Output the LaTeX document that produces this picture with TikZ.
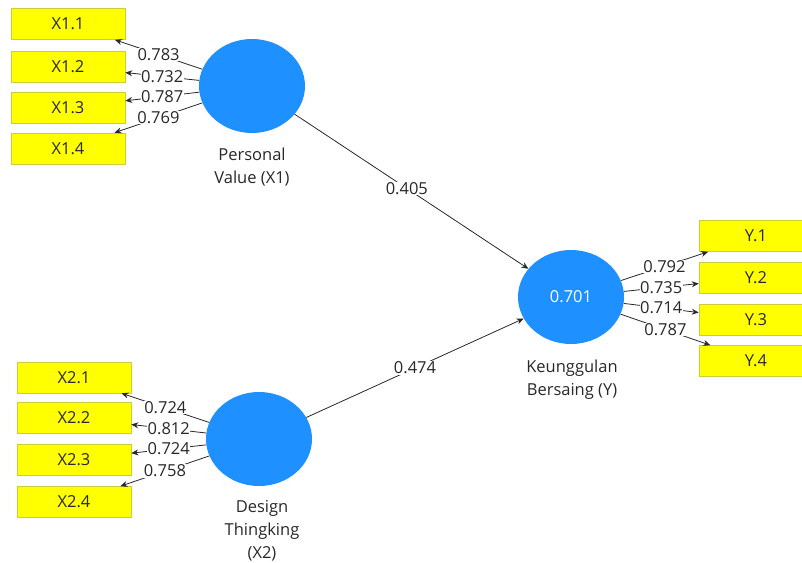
\documentclass[tikz,border=0pt]{standalone}
\usepackage{fontspec}
\setmainfont{Open Sans}
\usetikzlibrary{arrows.meta}
\usetikzlibrary{shapes.geometric}
\usetikzlibrary{positioning}

\definecolor{lvblue}{RGB}{30,144,255}
\definecolor{mvyellow}{RGB}{255,255,0}
\definecolor{mvedge}{RGB}{205,205,60}
\definecolor{txtgray}{RGB}{40,40,40}

\tikzset{
  latent/.style={ellipse, fill=lvblue, minimum width=106pt, minimum height=94pt, inner sep=0pt},
  manifest/.style={rectangle, draw=mvedge, line width=0.6pt, fill=mvyellow, minimum width=114pt, minimum height=31pt, inner sep=0pt},
  path/.style={draw=txtgray, line width=0.8pt, -{Stealth[length=7pt,width=6pt]}},
  coef/.style={fill=white, inner sep=0.5pt},
  caption/.style={align=center}
}

\begin{document}
\begin{tikzpicture}[x=1pt, y=-1pt, font=\fontsize{16.5}{23}\selectfont, text=txtgray]
  \useasboundingbox (0,0) rectangle (802,562);
  % latent variables
  \node[latent] (x1) at (252,86)  {};
  \node[latent] (x2) at (259,439) {};
  \node[latent, text=white] (y) at (571,297) {0.701};
  \node[caption] (x1lbl) at (252,167) {Personal\\Value (X1)};
  \node[caption] (x2lbl) at (262,531) {Design\\Thingking\\(X2)};
  \node[caption] (ylbl)  at (572,380) {Keunggulan\\Bersaing (Y)};
  % indicators
  \node[manifest] (x11) at (68,24)    {X1.1};
  \node[manifest] (x12) at (68,66.5)  {X1.2};
  \node[manifest] (x13) at (68,107.5) {X1.3};
  \node[manifest] (x14) at (68,148.5) {X1.4};
  \node[manifest] (x21) at (74,377.5) {X2.1};
  \node[manifest] (x22) at (74,418)   {X2.2};
  \node[manifest] (x23) at (74,459.5) {X2.3};
  \node[manifest] (x24) at (74,502)   {X2.4};
  \node[manifest] (y1)  at (756,236)   {Y.1};
  \node[manifest] (y2)  at (756,277.5) {Y.2};
  \node[manifest] (y3)  at (756,319.5) {Y.3};
  \node[manifest] (y4)  at (756,361)   {Y.4};
  % outer loadings
  \draw[path] (x1) -- node[coef] {0.783} (x11);
  \draw[path] (x1) -- node[coef] {0.732} (x12);
  \draw[path] (x1) -- node[coef] {0.787} (x13);
  \draw[path] (x1) -- node[coef] {0.769} (x14);
  \draw[path] (x2) -- node[coef] {0.724} (x21);
  \draw[path] (x2) -- node[coef] {0.812} (x22);
  \draw[path] (x2) -- node[coef] {0.724} (x23);
  \draw[path] (x2) -- node[coef] {0.758} (x24);
  \draw[path] (y) -- node[coef] {0.792} (y1);
  \draw[path] (y) -- node[coef] {0.735} (y2);
  \draw[path] (y) -- node[coef] {0.714} (y3);
  \draw[path] (y) -- node[coef] {0.787} (y4);
  % path coefficients
  \draw[path] (x1) -- node[coef, pos=0.48] {0.405} (y);
  \draw[path] (x2) -- node[coef, pos=0.5] {0.474} (y);
\end{tikzpicture}
\end{document}
